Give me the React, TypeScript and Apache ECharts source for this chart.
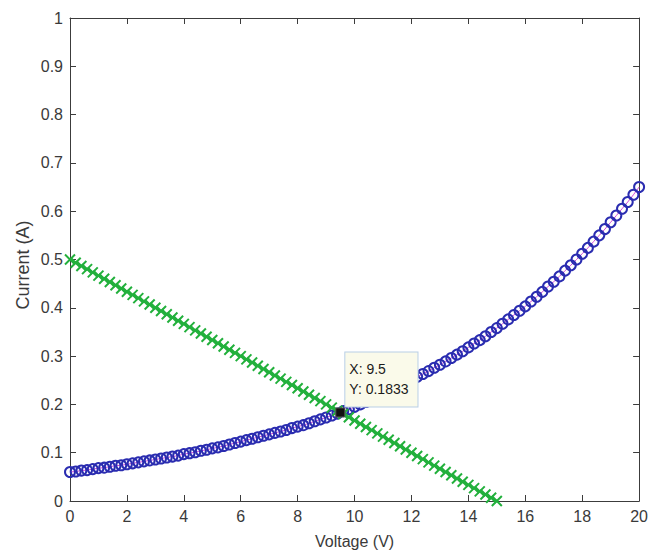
import React, { useEffect, useRef } from "react";
import * as echarts from "echarts";

// Diode-like I–V curve (blue circles)
const curveVoltage = [
  0, 0.2, 0.4, 0.6, 0.8, 1, 1.2, 1.4, 1.6, 1.8, 2, 2.2, 2.4, 2.6, 2.8, 3, 3.2, 3.4, 3.6, 3.8,
  4, 4.2, 4.4, 4.6, 4.8, 5, 5.2, 5.4, 5.6, 5.8, 6, 6.2, 6.4, 6.6, 6.8, 7, 7.2, 7.4, 7.6, 7.8,
  8, 8.2, 8.4, 8.6, 8.8, 9, 9.2, 9.4, 9.6, 9.8, 10, 10.2, 10.4, 10.6, 10.8, 11, 11.2, 11.4, 11.6, 11.8,
  12, 12.2, 12.4, 12.6, 12.8, 13, 13.2, 13.4, 13.6, 13.8, 14, 14.2, 14.4, 14.6, 14.8, 15, 15.2, 15.4, 15.6, 15.8,
  16, 16.2, 16.4, 16.6, 16.8, 17, 17.2, 17.4, 17.6, 17.8, 18, 18.2, 18.4, 18.6, 18.8, 19, 19.2, 19.4, 19.6, 19.8,
  20,
];
const curveCurrent = [
  0.060, 0.061, 0.063, 0.064, 0.066, 0.068, 0.069, 0.071, 0.073, 0.074,
  0.076, 0.078, 0.080, 0.082, 0.084, 0.086, 0.088, 0.090, 0.092, 0.094,
  0.097, 0.099, 0.101, 0.104, 0.106, 0.109, 0.111, 0.114, 0.117, 0.120,
  0.123, 0.126, 0.129, 0.132, 0.135, 0.138, 0.141, 0.144, 0.147, 0.151,
  0.154, 0.157, 0.161, 0.165, 0.169, 0.173, 0.177, 0.181, 0.186, 0.190,
  0.195, 0.200, 0.205, 0.210, 0.215, 0.220, 0.227, 0.232, 0.238, 0.244,
  0.251, 0.257, 0.263, 0.269, 0.276, 0.282, 0.289, 0.296, 0.303, 0.310,
  0.318, 0.326, 0.333, 0.341, 0.350, 0.358, 0.367, 0.376, 0.385, 0.394,
  0.403, 0.413, 0.423, 0.433, 0.444, 0.454, 0.465, 0.477, 0.488, 0.500,
  0.512, 0.524, 0.537, 0.550, 0.563, 0.577, 0.591, 0.605, 0.619, 0.634,
  0.650,
];

// Load line (green crosses)
const loadVoltage = [
  0, 0.2, 0.4, 0.6, 0.8, 1, 1.2, 1.4, 1.6, 1.8, 2, 2.2, 2.4, 2.6, 2.8, 3, 3.2, 3.4, 3.6, 3.8,
  4, 4.2, 4.4, 4.6, 4.8, 5, 5.2, 5.4, 5.6, 5.8, 6, 6.2, 6.4, 6.6, 6.8, 7, 7.2, 7.4, 7.6, 7.8,
  8, 8.2, 8.4, 8.6, 8.8, 9, 9.2, 9.4, 9.6, 9.8, 10, 10.2, 10.4, 10.6, 10.8, 11, 11.2, 11.4, 11.6, 11.8,
  12, 12.2, 12.4, 12.6, 12.8, 13, 13.2, 13.4, 13.6, 13.8, 14, 14.2, 14.4, 14.6, 14.8, 15,
];
const loadCurrent = [
  0.5, 0.4933, 0.4867, 0.48, 0.4733, 0.4667, 0.46, 0.4533, 0.4467, 0.44,
  0.4333, 0.4267, 0.42, 0.4133, 0.4067, 0.4, 0.3933, 0.3867, 0.38, 0.3733,
  0.3667, 0.36, 0.3533, 0.3467, 0.34, 0.3333, 0.3267, 0.32, 0.3133, 0.3067,
  0.3, 0.2933, 0.2867, 0.28, 0.2733, 0.2667, 0.26, 0.2533, 0.2467, 0.24,
  0.2333, 0.2267, 0.22, 0.2133, 0.2067, 0.2, 0.1933, 0.1867, 0.18, 0.1733,
  0.1667, 0.16, 0.1533, 0.1467, 0.14, 0.1333, 0.1267, 0.12, 0.1133, 0.1067,
  0.1, 0.0933, 0.0867, 0.08, 0.0733, 0.0667, 0.06, 0.0533, 0.0467, 0.04,
  0.0333, 0.0267, 0.02, 0.0133, 0.0067, 0,
];

// Data tip
const tipX = 9.5;
const tipY = 0.1833;

const xName = "Voltage (V)";
const yName = "Current (A)";

const FONT = "'Liberation Sans', Arial, sans-serif";
const AXIS_COLOR = "#3c3c3c";
const LABEL_COLOR = "#3a3a3a";

export default function App() {
  const ref = useRef<HTMLDivElement>(null);

  useEffect(() => {
    if (!ref.current) return;
    const chart = echarts.init(ref.current, undefined, { renderer: "svg" });

    const axisLine = { show: true, onZero: false, lineStyle: { color: AXIS_COLOR, width: 1 } };
    const tick = { show: true, inside: true, length: 6, lineStyle: { color: AXIS_COLOR, width: 1 } };
    const labelStyle = { color: LABEL_COLOR, fontFamily: FONT, fontSize: 16 };

    chart.setOption({
      animation: false,
      backgroundColor: "#ffffff",
      grid: { left: 70, right: 9, top: 18, bottom: 54, containLabel: false },
      graphic: [
        {
          type: "text",
          x: 23,
          y: 265,
          rotation: Math.PI / 2,
          style: {
            text: yName,
            fill: LABEL_COLOR,
            font: `18px ${FONT}`,
            align: "center",
            verticalAlign: "middle",
          },
        },
      ],
      xAxis: [
        {
          type: "value",
          min: 0,
          max: 20,
          interval: 2,
          position: "bottom",
          name: xName,
          nameLocation: "middle",
          nameGap: 32,
          nameTextStyle: { color: LABEL_COLOR, fontFamily: FONT, fontSize: 16 },
          axisLine,
          axisTick: tick,
          axisLabel: { ...labelStyle, margin: 7 },
          splitLine: { show: false },
        },
        {
          type: "value",
          min: 0,
          max: 20,
          interval: 2,
          position: "top",
          axisLine,
          axisTick: tick,
          axisLabel: { show: false },
          splitLine: { show: false },
        },
      ],
      yAxis: [
        {
          type: "value",
          min: 0,
          max: 1,
          interval: 0.1,
          position: "left",
          axisLine,
          axisTick: tick,
          axisLabel: {
            ...labelStyle,
            margin: 7,
            formatter: (v: number) => String(+v.toFixed(1)),
          },
          splitLine: { show: false },
        },
        {
          type: "value",
          min: 0,
          max: 1,
          interval: 0.1,
          position: "right",
          axisLine,
          axisTick: tick,
          axisLabel: { show: false },
          splitLine: { show: false },
        },
      ],
      series: [
        {
          type: "line",
          xAxisIndex: 0,
          yAxisIndex: 0,
          data: curveVoltage.map((v, i) => [v, curveCurrent[i]]),
          symbol: "circle",
          symbolSize: 10,
          showAllSymbol: true,
          lineStyle: { color: "#d04ad8", width: 1 },
          itemStyle: { color: "transparent", borderColor: "#2a2cb0", borderWidth: 2 },
          z: 2,
        },
        {
          type: "line",
          xAxisIndex: 0,
          yAxisIndex: 0,
          data: loadVoltage.map((v, i) => [v, loadCurrent[i]]),
          symbol: "path://M0 0L10 10M10 0L0 10",
          symbolSize: 10,
          showAllSymbol: true,
          lineStyle: { color: "#22b03c", width: 2 },
          itemStyle: { color: "transparent", borderColor: "#22b03c", borderWidth: 2 },
          z: 3,
        },
        {
          type: "scatter",
          xAxisIndex: 0,
          yAxisIndex: 0,
          data: [[tipX, tipY]],
          symbol: "rect",
          symbolSize: 9,
          itemStyle: { color: "#111111", borderColor: "#555", borderWidth: 1, opacity: 1 },
          z: 10,
          label: {
            show: true,
            position: [10, -55],
            formatter: `X: ${tipX}\nY: ${tipY}`,
            color: "#1a1a1a",
            fontFamily: FONT,
            fontSize: 14,
            lineHeight: 20,
            opacity: 1,
            backgroundColor: "#fafaea",
            borderColor: "#b9cfe6",
            borderWidth: 1,
            padding: [7, 9, 7, 4],
            align: "left",
            verticalAlign: "top",
          },
        },
      ],
    });

    return () => chart.dispose();
  }, []);

  return <div ref={ref} style={{ width: 651, height: 555, position: "absolute", left: 0, top: 0 }} />;
}
